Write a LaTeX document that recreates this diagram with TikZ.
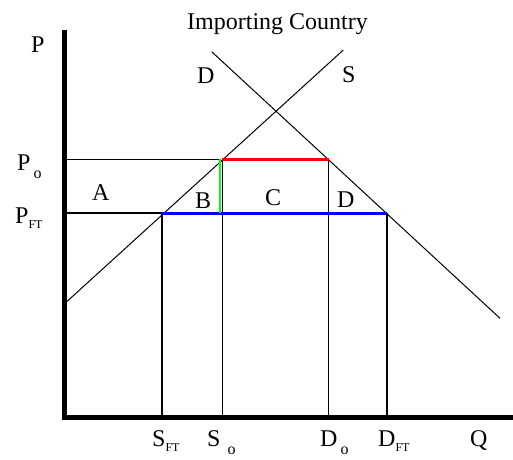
\documentclass[tikz,border=0pt]{standalone}
\usepackage{fontspec}
\setmainfont{Liberation Serif}
\usetikzlibrary{calc}
\colorlet{lossgreen}{green!100}
\colorlet{gainred}{red}
\colorlet{ftblue}{blue}
\newcommand{\subo}{\hspace{3pt}\raisebox{-8pt}{\fontsize{16}{16}\selectfont o}}
\newcommand{\subft}{\raisebox{-5pt}{\fontsize{12}{12}\selectfont FT}}

\begin{document}
\begin{tikzpicture}[x=1pt,y=-1pt,
        lbl/.style={font=\fontsize{24}{26}\selectfont, inner sep=0pt, anchor=base west},
        axis/.style={line width=5pt},
        curve/.style={line width=1pt},
        guide/.style={line width=1.2pt}]
        \useasboundingbox (0,0) rectangle (513,459);
        % axis coordinates
        \coordinate (O) at (64.5,417.5);
        \coordinate (Ptop) at (64.5,29.5);
        \coordinate (Qend) at (513,417.5);
        % curve ends
        \coordinate (S1) at (66.7,301.7);
        \coordinate (S2) at (343.3,50);
        \coordinate (D1) at (211.7,51.7);
        \coordinate (D2) at (500,318.3);
        % prices and quantities
        \coordinate (PO) at (64.5,159.3);
        \coordinate (PFT) at (64.5,213);
        \coordinate (SO) at (222.3,159.3);
        \coordinate (DO) at (328.7,159.3);
        \coordinate (SFT) at (162,213);
        \coordinate (DFT) at (387,213);
        \coordinate (GO) at (220,159.3);
        % supply and demand
        \draw[curve] (S1) -- (S2);
        \draw[curve] (D1) -- (D2);
        % price lines
        \draw[guide] (PO) -- (GO);
        \draw[guide] (PFT) -- (SFT);
        % drop lines
        \foreach \q in {SFT,SO,DO,DFT}
        {
            \draw[guide] (\q) -- (\q |- O);
        }
        % areas
        \draw[line width=3pt, gainred] (SO) -- (DO);
        \draw[line width=3pt, ftblue] (SFT) -- (DFT);
        \draw[line width=2.5pt, lossgreen] (GO) -- (GO |- SFT);
        % axes
        \draw[axis] (Ptop) -- (O |- Qend) -- (Qend);
        % labels
        \node[lbl] (title) at (187,29) {Importing Country};
        \node[lbl] (plab) at (31,52) {P};
        \node[lbl] (qlab) at (470,446) {Q};
        \node[lbl] (dlab) at (197,83) {D};
        \node[lbl] (slab) at (342,82) {S};
        \node[lbl] (polab) at (17,170) {P\subo};
        \node[lbl] (pftlab) at (15,223) {P\subft};
        \node[lbl] (alab) at (92,200) {A};
        \node[lbl] (blab) at (195,208) {B};
        \node[lbl] (clab) at (265,205) {C};
        \node[lbl] (darea) at (337,207) {D};
        \node[lbl] (sftlab) at (152,446) {S\subft};
        \node[lbl] (solab) at (207,446) {S\hspace{4pt}\subo};
        \node[lbl] (dolab) at (320,446) {D\subo};
        \node[lbl] (dftlab) at (378,446) {D\subft};
\end{tikzpicture}
\end{document}
